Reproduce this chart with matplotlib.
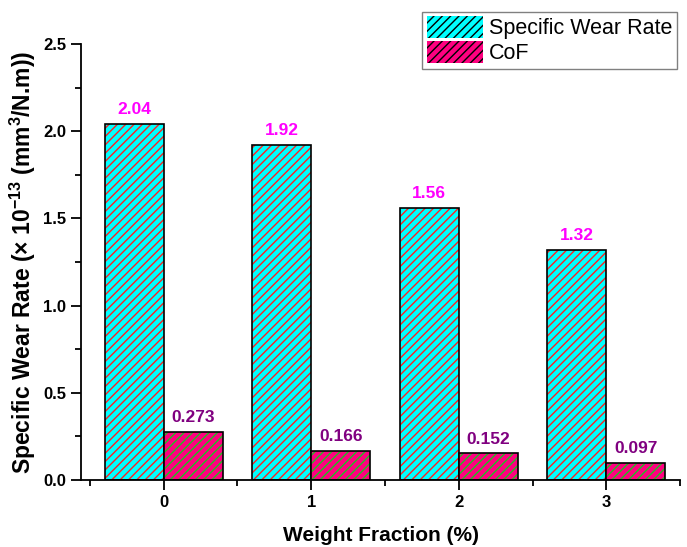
import matplotlib.pyplot as plt
import numpy as np
from matplotlib.patches import Patch

plt.rcParams['font.family'] = ['Liberation Sans', 'DejaVu Sans']
plt.rcParams['mathtext.default'] = 'regular'
plt.rcParams['hatch.linewidth'] = 1.0

weight_fraction = ["0", "1", "2", "3"]
wear_rate = [2.04, 1.92, 1.56, 1.32]
cof = [0.273, 0.166, 0.152, 0.097]

wear_labels = ["2.04", "1.92", "1.56", "1.32"]
cof_labels = ["0.273", "0.166", "0.152", "0.097"]

fig = plt.figure(figsize=(6.87, 5.47), dpi=100)
ax = fig.add_axes([0.118, 0.1225, 0.872, 0.797])

x = np.arange(len(weight_fraction))
width = 0.4

# hatch colour comes from edgecolor, so fill first then add black outline
ax.bar(x - width / 2, wear_rate, width, color="#00FFFF", edgecolor="#FF2020",
       hatch="////", linewidth=0)
ax.bar(x - width / 2, wear_rate, width, fill=False, edgecolor="black", linewidth=1.2)
ax.bar(x + width / 2, cof, width, color="#FF0080", edgecolor="#20C020",
       hatch="////", linewidth=0)
ax.bar(x + width / 2, cof, width, fill=False, edgecolor="black", linewidth=1.2)

for xi, v, s in zip(x, wear_rate, wear_labels):
    ax.text(xi - width / 2, v + 0.04, s, ha="center", va="bottom",
            color="#FF00FF", fontsize=12.5, fontweight="bold")
for xi, v, s in zip(x, cof, cof_labels):
    ax.text(xi + width / 2, v + 0.04, s, ha="center", va="bottom",
            color="#800080", fontsize=12.5, fontweight="bold")

ax.set_xlim(-0.56, 3.5)
ax.set_ylim(0, 2.5)
ax.set_xticks(x)
ax.set_xticklabels(weight_fraction)
ax.set_xticks(np.arange(-0.5, 3.6, 1.0), minor=True)
ax.set_yticks(np.arange(0, 2.6, 0.5))
ax.set_yticks(np.arange(0.25, 2.5, 0.5), minor=True)
ax.yaxis.set_major_formatter(plt.FormatStrFormatter("%.1f"))

ax.spines["top"].set_visible(False)
ax.spines["right"].set_visible(False)
ax.spines["left"].set_linewidth(1.3)
ax.spines["bottom"].set_linewidth(1.3)
ax.tick_params(which="major", direction="out", length=7, width=1.3, labelsize=12)
ax.tick_params(which="minor", direction="out", length=4, width=1.3)
for lbl in ax.get_xticklabels() + ax.get_yticklabels():
    lbl.set_fontweight("bold")

ax.set_xlabel("Weight Fraction (%)", fontsize=15, fontweight="bold", labelpad=12)
ax.set_ylabel("Specific Wear Rate (× 10$^{-13}$ (mm$^{3}$/N.m))",
              fontsize=16.5, fontweight="bold", labelpad=4)

handles = [Patch(facecolor="#00FFFF", edgecolor="#FF2020", hatch="////", linewidth=0),
           Patch(facecolor="#FF0080", edgecolor="#20C020", hatch="////", linewidth=0)]
leg = fig.legend(handles, ["Specific Wear Rate", "CoF"], loc="upper right",
                 bbox_to_anchor=(0.985, 0.978), fontsize=15.5, fancybox=False,
                 edgecolor="gray", framealpha=1, handlelength=2.6, handleheight=1.15,
                 handletextpad=0.3, borderpad=0.2, labelspacing=0.1, borderaxespad=0)
for p in leg.get_patches():
    p.set_edgecolor("black")

fig.savefig("out.png", dpi=100)
